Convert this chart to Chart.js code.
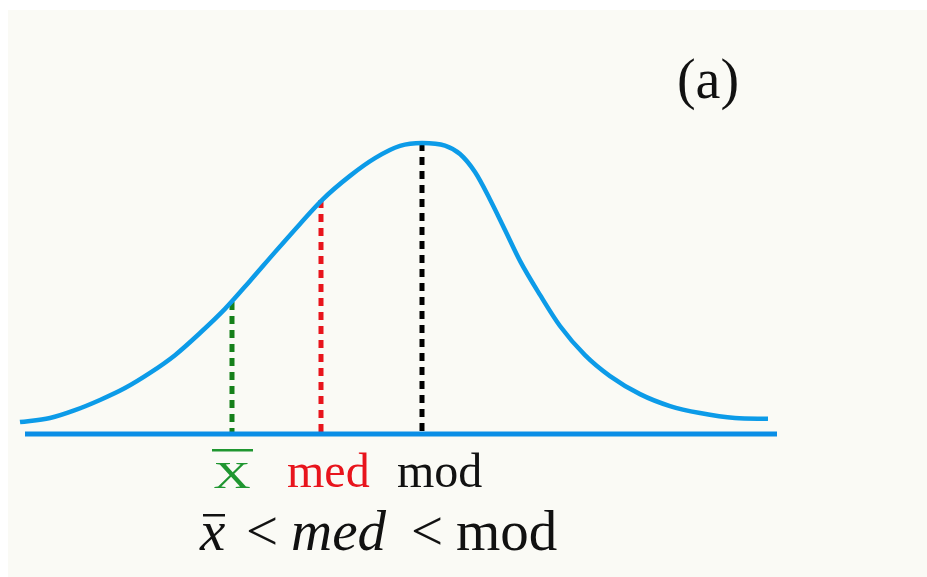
<!DOCTYPE html>
<html>
<head>
<meta charset="utf-8">
<script src="https://cdn.jsdelivr.net/npm/chart.js@4/dist/chart.umd.min.js"></script>
<style>
  html, body { margin: 0; padding: 0; background: #fafaf5; }
  #wrap { width: 927px; height: 577px; position: relative; }
</style>
</head>
<body>
<div id="wrap"><canvas id="chart"></canvas></div>
<script>
// skewed density curve (x: offset from the mode, y: height relative to the peak)
const curveX = [-4.02, -3.72, -3.47, -3.22, -2.97, -2.72, -2.47, -2.22, -1.97, -1.72, -1.47, -1.22, -1.00, -0.72, -0.47, -0.22, 0,
                0.23, 0.38, 0.53, 0.68, 0.83, 0.98, 1.18, 1.38, 1.63, 1.88, 2.18, 2.48, 2.78, 3.13, 3.46];
const curveY = [0.041, 0.055, 0.082, 0.117, 0.158, 0.210, 0.271, 0.347, 0.430, 0.526, 0.625, 0.722, 0.804, 0.887, 0.948, 0.990, 1.0,
                0.991, 0.962, 0.900, 0.806, 0.701, 0.595, 0.478, 0.371, 0.271, 0.199, 0.137, 0.096, 0.072, 0.055, 0.052];

// mean, median, mode markers
const markerNames = ['mean', 'med', 'mod'];
const markerX = [-1.90, -1.01, 0];
const markerY = [0.454, 0.804, 1.0];
const markerColors = ['#15801a', '#e8141c', '#000000'];

const axisX = [-3.97, 3.55];

const datasets = [];
datasets.push({
  label: 'curve',
  data: curveX.map((x, i) => ({ x: x, y: curveY[i] })),
  borderColor: '#0c9be8',
  borderWidth: 4.5,
  cubicInterpolationMode: 'monotone',
  pointRadius: 0,
  order: 0
});
datasets.push({
  label: 'axis',
  data: axisX.map(x => ({ x: x, y: 0 })),
  borderColor: '#0a8ee6',
  borderWidth: 5,
  pointRadius: 0,
  order: 1
});
markerX.forEach((x, i) => {
  datasets.push({
    label: markerNames[i],
    data: [{ x: x, y: markerY[i] }, { x: x, y: 0 }],
    borderColor: markerColors[i],
    borderWidth: 5,
    borderDash: [8, 6],
    pointRadius: 0,
    order: 2
  });
});

const paper = {
  id: 'paper',
  beforeDraw(chart) {
    const ctx = chart.ctx;
    ctx.save();
    ctx.fillStyle = '#fafaf5';
    ctx.fillRect(0, 0, chart.width, chart.height);
    ctx.fillStyle = '#ffffff';
    ctx.fillRect(0, 0, chart.width, 10);
    ctx.fillRect(0, 0, 8, chart.height);
    ctx.restore();
  }
};

const labels = {
  id: 'labels',
  afterDraw(chart) {
    const ctx = chart.ctx;
    const serif = '"Liberation Serif", "Times New Roman", serif';
    ctx.save();
    ctx.textBaseline = 'alphabetic';

    // (a)
    ctx.fillStyle = '#111111';
    ctx.textAlign = 'center';
    ctx.font = '56px ' + serif;
    ctx.fillText('(a)', 708, 98);

    // X with bar, stretched wide
    ctx.fillStyle = '#1f9630';
    ctx.save();
    ctx.translate(232, 488);
    ctx.scale(1.4, 1);
    ctx.font = '37px ' + serif;
    ctx.fillText('X', 0, 0);
    ctx.restore();
    ctx.fillRect(212, 449, 41, 2.5);

    ctx.font = '48px ' + serif;
    ctx.fillStyle = '#e8141c';
    ctx.textAlign = 'left';
    ctx.fillText('med', 287, 487);
    ctx.fillStyle = '#111111';
    ctx.fillText('mod', 397, 487);

    // x̄ < med < mod
    ctx.fillStyle = '#111111';
    ctx.font = 'italic 57px ' + serif;
    ctx.fillText('x', 200, 550);
    ctx.fillRect(203, 514, 22, 2.5);
    ctx.font = '57px ' + serif;
    ctx.fillText('<', 246, 550);
    ctx.font = 'italic 57px ' + serif;
    ctx.fillText('med', 291, 550);
    ctx.font = '57px ' + serif;
    ctx.fillText('<', 411, 550);
    ctx.fillText('mod', 456, 550);
    ctx.restore();
  }
};

new Chart(document.getElementById('chart'), {
  type: 'line',
  data: { datasets: datasets },
  options: {
    responsive: true,
    maintainAspectRatio: false,
    animation: false,
    layout: { padding: 0 },
    scales: {
      x: { type: 'linear', min: -4.22, max: 5.05, display: false },
      y: { type: 'linear', min: -0.4914, max: 1.4914, display: false }
    },
    plugins: {
      legend: { display: false },
      tooltip: { enabled: false }
    }
  },
  plugins: [paper, labels]
});
</script>
</body>
</html>
